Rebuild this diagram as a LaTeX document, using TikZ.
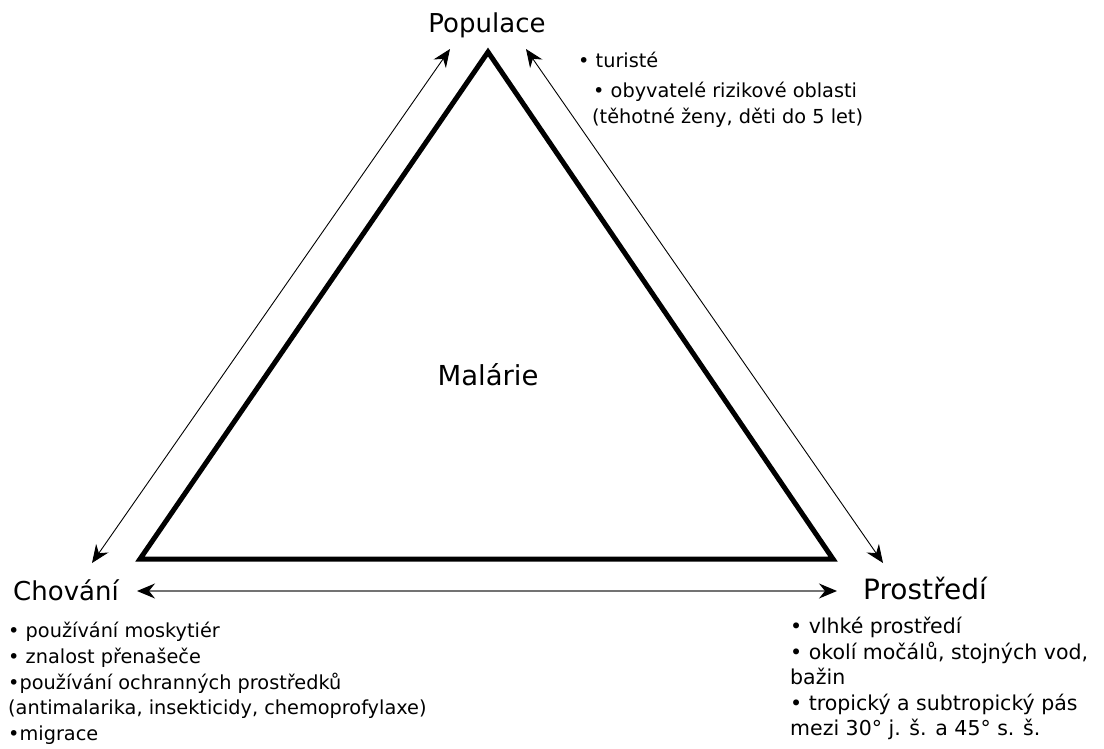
\documentclass[tikz,border=0pt]{standalone}
\usepackage{fontspec}
\setmainfont{DejaVu Sans}
\usetikzlibrary{arrows.meta}

\begin{document}
\begin{tikzpicture}[x=1pt, y=-1pt,
    label/.style={font=\fontsize{26}{30}\selectfont, inner sep=0pt},
    notes/.style={font=\fontsize{19.3}{25.75}\selectfont, align=left,
                  inner sep=0pt, anchor=north west},
    link/.style={{Stealth[length=18pt, width=15pt, inset=6pt]}-{Stealth[length=18pt, width=15pt, inset=6pt]}, line width=0.9pt},
    base/.style={{Stealth[length=18pt, width=15pt, inset=6pt, color=black]}-{Stealth[length=18pt, width=15pt, inset=6pt, color=black]}, line width=1.6pt, black!55}
]
    \useasboundingbox (0,0) rectangle (1104,749);

    % corners of the triangle
    \coordinate (top) at (488,52);
    \coordinate (left) at (140,559);
    \coordinate (right) at (833,559);
    \draw[line width=5pt, miter limit=10] (top) -- (left) -- (right) -- cycle;

    \node[label, font=\fontsize{27.5}{30}\selectfont] (malarie) at (488,375) {Malárie};
    \node[label] (populace) at (487,25) {Populace};
    \node[label] (chovani) at (66,590) {Chování};
    \node[label, font=\fontsize{28}{30}\selectfont] (prostredi) at (925,588) {Prostředí};

    % ends of the arrows
    \coordinate (pop-l) at (450,49);
    \coordinate (pop-r) at (526,49);
    \coordinate (chov-u) at (92,563);
    \coordinate (chov-r) at (137,591);
    \coordinate (prost-u) at (883,563);
    \coordinate (prost-l) at (837,591);

    \draw[link] (chov-u) -- (pop-l);
    \draw[link] (pop-r) -- (prost-u);
    \draw[base] (chov-r) -- (prost-l);

    \node[notes] (pop-notes) at (578,52) {• turisté\\[4pt]
        \hspace{15pt}• obyvatelé rizikové oblasti\\
        \hspace{14pt}(těhotné ženy, děti do 5 let)};
    \node[notes] (chov-notes) at (8,622) {• používání moskytiér\\
        • znalost přenašeče\\
        •používání ochranných prostředků\\
        (antimalarika, insekticidy, chemoprofylaxe)\\
        •migrace};
    \node[notes, font=\fontsize{20.5}{25.5}\selectfont] (prost-notes) at (790,617) {• vlhké prostředí\\
        • okolí močálů, stojných vod,\\
        bažin\\
        • tropický a subtropický pás\\
        mezi 30° j. š. a 45° s. š.};
\end{tikzpicture}
\end{document}
